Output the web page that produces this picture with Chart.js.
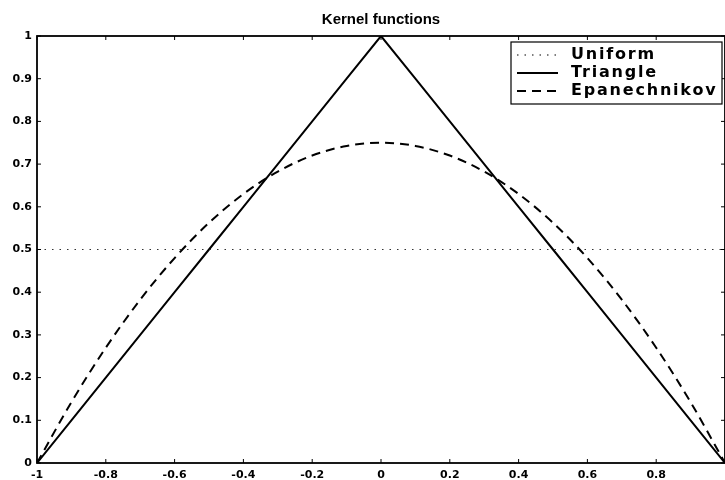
<!DOCTYPE html>
<html>
<head>
<meta charset="utf-8">
<script src="https://cdn.jsdelivr.net/npm/chart.js@4"></script>
<style>
  html, body { margin: 0; padding: 0; background: #fff; }
  #wrap { width: 725px; height: 480px; }
</style>
</head>
<body>
<div id="wrap"><canvas id="kernelChart"></canvas></div>
<script>
// 数据
const xValues = [-1, -0.9, -0.8, -0.7, -0.6, -0.5, -0.4, -0.3, -0.2, -0.1, 0,
                 0.1, 0.2, 0.3, 0.4, 0.5, 0.6, 0.7, 0.8, 0.9, 1];
const uniformValues = [0.5, 0.5, 0.5, 0.5, 0.5, 0.5, 0.5, 0.5, 0.5, 0.5, 0.5,
                       0.5, 0.5, 0.5, 0.5, 0.5, 0.5, 0.5, 0.5, 0.5, 0.5];
const triangleValues = [0, 0.1, 0.2, 0.3, 0.4, 0.5, 0.6, 0.7, 0.8, 0.9, 1,
                        0.9, 0.8, 0.7, 0.6, 0.5, 0.4, 0.3, 0.2, 0.1, 0];
const epanValues = [0, 0.1425, 0.27, 0.3825, 0.48, 0.5625, 0.63, 0.6825, 0.72, 0.7425, 0.75,
                    0.7425, 0.72, 0.6825, 0.63, 0.5625, 0.48, 0.3825, 0.27, 0.1425, 0];
const seriesNames = ['Uniform', 'Triangle', 'Epanechnikov'];
const xTicks = [-1, -0.8, -0.6, -0.4, -0.2, 0, 0.2, 0.4, 0.6, 0.8, 1];
const yTicks = [0, 0.1, 0.2, 0.3, 0.4, 0.5, 0.6, 0.7, 0.8, 0.9, 1];

const toPoints = ys => xValues.map((x, i) => ({ x: x, y: ys[i] }));
const FONT = '"Liberation Sans", Arial, Helvetica, sans-serif';
const WIDE_FONT = '"DejaVu Sans", Verdana, sans-serif';

// 边框、内向刻度和图例
const framePlugin = {
    id: 'frame',
    afterDraw(chart) {
        const ctx = chart.ctx;
        const a = chart.chartArea;
        const xs = chart.scales.x;
        const ys = chart.scales.y;
        ctx.save();
        ctx.strokeStyle = '#000';
        ctx.lineWidth = 1.8;
        ctx.strokeRect(a.left, a.top, a.right - a.left, a.bottom - a.top);

        ctx.lineWidth = 1;
        ctx.beginPath();
        xTicks.forEach(v => {
            const px = xs.getPixelForValue(v);
            ctx.moveTo(px, a.bottom); ctx.lineTo(px, a.bottom - 4);
            ctx.moveTo(px, a.top); ctx.lineTo(px, a.top + 4);
        });
        yTicks.forEach(v => {
            const py = ys.getPixelForValue(v);
            ctx.moveTo(a.left, py); ctx.lineTo(a.left + 4, py);
            ctx.moveTo(a.right, py); ctx.lineTo(a.right - 4, py);
        });
        ctx.stroke();

        // 图例
        const bx = 511, by = 42, bw = 211, bh = 62, rowH = 18;
        ctx.fillStyle = '#fff';
        ctx.fillRect(bx, by, bw, bh);
        ctx.lineWidth = 1.2;
        ctx.strokeRect(bx, by, bw, bh);
        ctx.font = 'bold 16px ' + WIDE_FONT;
        ctx.letterSpacing = '1.8px';
        ctx.textBaseline = 'middle';
        chart.data.datasets.forEach((ds, i) => {
            const cy = by + 13 + i * rowH;
            ctx.strokeStyle = '#000';
            ctx.lineWidth = ds.borderWidth;
            ctx.setLineDash(ds.borderDash || []);
            ctx.beginPath();
            ctx.moveTo(bx + 6, cy); ctx.lineTo(bx + 47, cy);
            ctx.stroke();
            ctx.setLineDash([]);
            ctx.fillStyle = '#000';
            ctx.fillText(ds.label, bx + 60, cy);
        });
        ctx.restore();
    }
};

new Chart(document.getElementById('kernelChart'), {
    type: 'line',
    data: {
        datasets: [
            {
                label: seriesNames[0],
                data: toPoints(uniformValues),
                borderColor: '#333',
                borderWidth: 1.2,
                borderDash: [1.5, 6],
                pointRadius: 0,
                tension: 0
            },
            {
                label: seriesNames[1],
                data: toPoints(triangleValues),
                borderColor: '#000',
                borderWidth: 2,
                pointRadius: 0,
                tension: 0
            },
            {
                label: seriesNames[2],
                data: toPoints(epanValues),
                borderColor: '#000',
                borderWidth: 2,
                borderDash: [9, 6],
                pointRadius: 0,
                cubicInterpolationMode: 'monotone'
            }
        ]
    },
    options: {
        responsive: true,
        maintainAspectRatio: false,
        animation: false,
        layout: { padding: { left: 0, right: 0, top: 0, bottom: 0 } },
        plugins: {
            legend: { display: false },
            tooltip: { enabled: false },
            title: {
                display: true,
                fullSize: false,
                text: 'Kernel functions',
                color: '#000',
                font: { family: FONT, size: 15, weight: 'bold' },
                padding: { top: 11, bottom: 7 }
            }
        },
        scales: {
            x: {
                type: 'linear',
                min: -1,
                max: 1,
                afterFit: s => { s.height = 17; s.paddingRight = 0; },
                afterBuildTicks: s => { s.ticks = xTicks.map(v => ({ value: v })); },
                grid: { display: false, drawTicks: false },
                border: { display: false },
                ticks: {
                    color: '#000',
                    padding: 6,
                    maxRotation: 0,
                    autoSkip: false,
                    font: { family: WIDE_FONT, size: 11, weight: 'bold' },
                    callback: v => (v === 1 ? '' : String(v))
                }
            },
            y: {
                min: 0,
                max: 1,
                afterFit: s => { s.width = 37; },
                afterBuildTicks: s => { s.ticks = yTicks.map(v => ({ value: v })); },
                grid: { display: false, drawTicks: false },
                border: { display: false },
                ticks: {
                    color: '#000',
                    padding: 5,
                    font: { family: WIDE_FONT, size: 11, weight: 'bold' },
                    callback: v => String(v)
                }
            }
        }
    },
    plugins: [framePlugin]
});
</script>
</body>
</html>
